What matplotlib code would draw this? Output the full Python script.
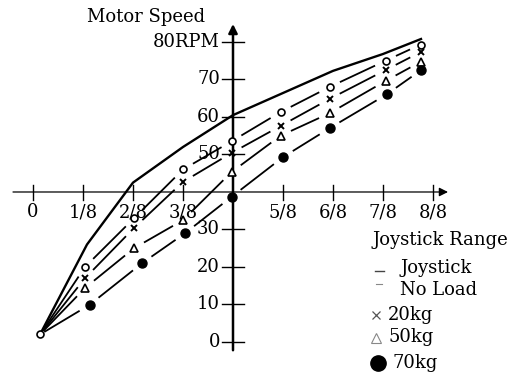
import matplotlib
matplotlib.use("Agg")
import matplotlib.pyplot as plt
import numpy as np

plt.rcParams['lines.scale_dashes'] = False
FONT = 'DejaVu Serif'

# ---------------- data (x in eighths of joystick range, y in RPM) -------------
x_ticks = [0, 1, 2, 3, 5, 6, 7, 8]
x_tick_labels = ["0", "1/8", "2/8", "3/8", "5/8", "6/8", "7/8", "8/8"]
y_ticks = [0, 10, 20, 30, 50, 60, 70, 80]
y_tick_labels = ["0", "10", "20", "30", "50", "60", "70", "80RPM"]

joy_x = [0.14, 1.08, 2.0, 3.0, 4.0, 5.0, 6.0, 7.0, 7.76]
joy_y = [2, 26, 42.5, 52, 60.5, 66.4, 72.3, 76.8, 80.8]

pts_x = [0.14, 1.04, 2.02, 3.0, 3.97, 4.95, 5.93, 7.05, 7.75]
noload_y = [2, 20, 33, 46, 53.5, 61.3, 68, 75, 79.3]
kg20_y = [2, 17, 30.4, 42.7, 50.4, 57.6, 64.8, 72.5, 77.3]
kg50_y = [2, 14.4, 25, 32.5, 45.3, 55, 61, 69.6, 74.7]
kg70_x = [0.14, 1.13, 2.18, 3.04, 3.97, 5.0, 5.93, 7.07, 7.76]
kg70_y = [2, 9.9, 21, 29, 38.7, 49.3, 57, 66, 72.5]

# ---------------- figure ------------------------------------------------------
fig = plt.figure(figsize=(5.17, 3.76), dpi=100)
ax = fig.add_axes([0, 0, 1, 1])
ax.set_xlim(-0.66, 9.68)
ax.set_ylim(-9.07, 91.2)
ax.axis('off')

# axes with arrows
ax.annotate('', xy=(8.3, 40), xytext=(-0.4, 40),
            arrowprops=dict(arrowstyle='-|>', lw=0.9, color='black',
                            shrinkA=0, shrinkB=0, mutation_scale=13))
ax.annotate('', xy=(4, 84.8), xytext=(4, -2.2),
            arrowprops=dict(arrowstyle='-|>', lw=1.8, color='black',
                            shrinkA=0, shrinkB=0, mutation_scale=13))

for t in x_ticks:
    ax.plot([t, t], [37.9, 41.9], color='black', lw=1.0)
for t in y_ticks:
    ax.plot([3.78, 4.22], [t, t], color='black', lw=1.0)

for t, lab in zip(x_ticks, x_tick_labels):
    ax.text(t, 34.6, lab, ha='center', va='center', fontsize=13, family=FONT)
for t, lab in zip(y_ticks, y_tick_labels):
    ax.text(3.74, t, lab, ha='right', va='center', fontsize=13, family=FONT)

ax.text(1.08, 86.6, "Motor Speed", ha='left', va='center', fontsize=13, family=FONT)
ax.text(6.78, 27.2, "Joystick Range", ha='left', va='center', fontsize=13, family=FONT)

# joystick solid curve
ax.plot(joy_x, joy_y, color='black', lw=1.7, solid_joinstyle='round')

# dashed series drawn as one dash per segment with gaps near markers
fig.canvas.draw()
T = ax.transData
Tinv = T.inverted()


def gapped(xs, ys, g_first=5.0, g=11.5):
    P = T.transform(np.column_stack([xs, ys]))
    for i in range(len(P) - 1):
        a, b = P[i], P[i + 1]
        d = b - a
        L = np.hypot(*d)
        u = d / L
        ga = g_first if i == 0 else g
        s = a + u * ga
        e = b - u * g
        seg = Tinv.transform(np.array([s, e]))
        ax.plot(seg[:, 0], seg[:, 1], color='black', lw=1.3, solid_capstyle='butt')


gapped(pts_x, noload_y)
gapped(pts_x, kg20_y)
gapped(pts_x, kg50_y)
gapped(kg70_x, kg70_y)

ax.plot(pts_x, noload_y, ls='none', marker='o', ms=5, mfc='white', mec='black', mew=1.2, zorder=5)
ax.plot(pts_x[1:], kg20_y[1:], ls='none', marker='x', ms=5, mec='black', mew=1.4, zorder=5)
ax.plot(pts_x[1:], kg50_y[1:], ls='none', marker='^', ms=5.5, mfc='white', mec='black', mew=1.2, zorder=5)
ax.plot(kg70_x[1:], kg70_y[1:], ls='none', marker='o', ms=6.5, mfc='black', mec='black', zorder=5)

# legend (hand placed as in the figure)
ax.plot([6.84, 7.02], [19.0, 19.0], color='#444444', lw=1.0)
ax.text(7.34, 19.6, "Joystick", ha='left', va='center', fontsize=13, family=FONT)
ax.plot([6.86, 6.98], [15.4, 15.4], color='#888888', lw=0.8)
ax.text(7.34, 13.9, "No Load", ha='left', va='center', fontsize=13, family=FONT)
ax.plot([6.86], [7.2], ls='none', marker='x', ms=6, mec='#555555', mew=0.9)
ax.text(7.10, 7.2, "20kg", ha='left', va='center', fontsize=13, family=FONT)
ax.plot([6.86], [1.0], ls='none', marker='^', ms=6.5, mfc='white', mec='#888888', mew=0.8)
ax.text(7.10, 1.3, "50kg", ha='left', va='center', fontsize=13, family=FONT)
ax.plot([6.90], [-5.6], ls='none', marker='o', ms=11, mfc='black', mec='black')
ax.text(7.18, -5.6, "70kg", ha='left', va='center', fontsize=13, family=FONT)

fig.savefig("out.png", dpi=100)
